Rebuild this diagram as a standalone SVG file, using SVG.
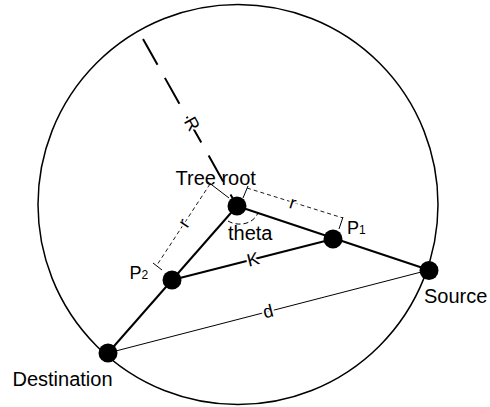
<svg xmlns="http://www.w3.org/2000/svg" width="490" height="407" viewBox="0 0 490 407">
<style>
text{font-family:"Liberation Sans",Arial,Helvetica,sans-serif;fill:#000}
.lbl{font-size:20px}
.thick{stroke:#000;stroke-width:2;fill:none}
.thin{stroke:#000;stroke-width:1;fill:none}
.dim{stroke:#000;stroke-width:0.9;stroke-dasharray:4 3;fill:none}
.ext{stroke:#000;stroke-width:1;fill:none}
.node{fill:#000}
.tag{font-size:18px;paint-order:stroke;stroke:#fff;stroke-width:4;stroke-linejoin:round;text-anchor:middle;dominant-baseline:central}
</style>
<rect width="490" height="407" fill="#fff"/>
<g id="boundary">
<circle cx="238" cy="204.5" r="200" fill="none" stroke="#000" stroke-width="1.5"/>
</g>
<g id="connectors">
<line class="thick" x1="143" y1="39" x2="237" y2="206" stroke-dasharray="29.6 15"/>
<line class="thick" x1="237" y1="206" x2="429" y2="270"/>
<line class="thick" x1="237" y1="206" x2="108" y2="353"/>
<line class="thick" x1="172" y1="280" x2="333" y2="239"/>
<line class="thin" x1="108" y1="353" x2="429" y2="270"/>
<line class="dim" x1="247" y1="188" x2="343" y2="218"/>
<line class="ext" x1="248" y1="186" x2="243" y2="198"/>
<line class="ext" x1="343" y1="217" x2="339" y2="229"/>
<line class="dim" x1="210" y1="184" x2="157" y2="265"/>
<line class="ext" x1="208" y1="182" x2="229" y2="198"/>
<line class="ext" x1="153" y1="263" x2="162" y2="270"/>
<path d="M 228 221 C 236 226 252 226 258 213" fill="none" stroke="#000" stroke-width="1" stroke-dasharray="5 3"/>
</g>
<g id="edge-labels">
<text class="tag" transform="translate(192 124) rotate(60.6)">R</text>
<text class="tag" transform="translate(293 203) rotate(17.4)">r</text>
<text class="tag" transform="translate(184 223) rotate(-56.6)">r</text>
<text class="tag" transform="translate(253 259.5) rotate(-14.3)">K</text>
<text class="tag" transform="translate(268 311.5) rotate(-14.5)">d</text>
</g>
<g id="tree-root">
<circle class="node" cx="237" cy="206" r="9.5"/>
<text class="lbl" x="175.5" y="185">Tree root</text>
<text class="lbl" x="228" y="240">theta</text>
</g>
<g id="p1">
<circle class="node" cx="333" cy="239" r="9.5"/>
<text x="347" y="233.5" font-size="18">P<tspan font-size="12">1</tspan></text>
</g>
<g id="p2">
<circle class="node" cx="172" cy="280" r="9.5"/>
<text x="129.5" y="278.5" font-size="18">P<tspan font-size="12">2</tspan></text>
</g>
<g id="source">
<circle class="node" cx="429" cy="270.5" r="9.5"/>
<text class="lbl" x="424" y="303">Source</text>
</g>
<g id="destination">
<circle class="node" cx="108" cy="353" r="9.5"/>
<text class="lbl" x="12.5" y="386">Destination</text>
</g>
</svg>
